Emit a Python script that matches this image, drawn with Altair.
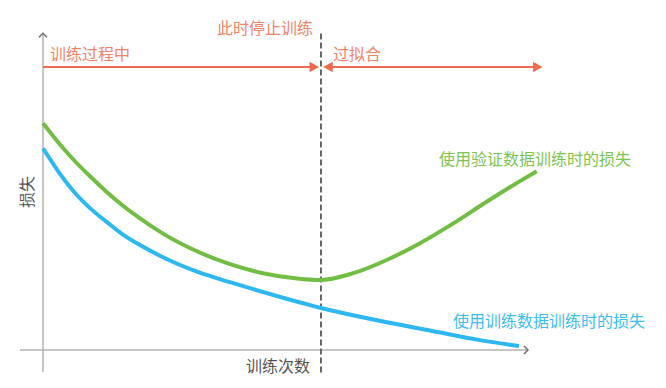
import altair as alt
import pandas as pd

# ---- data (abstract units: x = training steps, y = loss) ----
green_x = [0, 2.74, 6.06, 9.4, 12.74, 16.06, 19.4, 24, 30.8, 37.4, 44, 50.8, 55.4,
           62.06, 68.74, 75.4, 82.06, 88.74, 95.4, 98.74]
green_y = [75.6, 69.85, 63.5, 57.9, 52.7, 48.0, 43.85, 38.8, 32.9, 28.6, 25.6, 23.8, 23.3,
           25.6, 30, 35.6, 42.2, 49.4, 56.3, 59.6]
blue_x = [0, 2.06, 3.4, 6.06, 9.4, 12.74, 16.06, 19.4, 24, 30.8, 37.4, 41.4, 55.4,
          71.4, 77.4, 87.4, 95.2]
blue_y = [67.2, 62, 58.7, 53, 47.3, 42.7, 38.4, 35, 30.9, 26.1, 22.6, 20.6, 14.1,
          8.4, 6.5, 3.3, 1.3]

stop_x = 55.6
arrow_y = 94.3
labels = ["训练过程中", "此时停止训练", "过拟合", "使用验证数据训练时的损失",
          "使用训练数据训练时的损失", "训练次数", "损失"]

XD = [-7, 123]
YD = [-9, 114]

FONT = "Noto Sans CJK SC"
RED = "#EE6B4F"
RED_TXT = "#F08468"
GREEN = "#72BE44"
BLUE = "#2DB8F2"

xs = alt.Scale(domain=XD, nice=False, zero=False)
ys = alt.Scale(domain=YD, nice=False, zero=False)


def X(f="x"):
    return alt.X(f"{f}:Q", scale=xs, axis=None)


def Y(f="y"):
    return alt.Y(f"{f}:Q", scale=ys, axis=None)


# axes lines
axes_df = pd.DataFrame({"x": [0, -4.6], "x2": [0, 97], "y": [-7.3, 0], "y2": [105.6, 0]})
axes = alt.Chart(axes_df).mark_rule(color="#b3b3b3", strokeWidth=1.5).encode(
    x=X(), x2="x2:Q", y=Y(), y2="y2:Q")

# chevrons at axis ends
chev_up = alt.Chart(pd.DataFrame({"x": [0], "y": [105.6]})).mark_point(
    shape="M-1,1L0,0L1,1", filled=False, size=64, color="#707070", strokeWidth=1.5, opacity=1
).encode(x=X(), y=Y())
chev_right = alt.Chart(pd.DataFrame({"x": [97], "y": [0]})).mark_point(
    shape="M-1,-1L0,0L-1,1", filled=False, size=64, color="#707070", strokeWidth=1.5, opacity=1
).encode(x=X(), y=Y())

# dashed stop line
stop = alt.Chart(pd.DataFrame({"x": [stop_x], "y": [-7.5], "y2": [106]})).mark_rule(
    color="#666666", strokeWidth=2, strokeDash=[6, 3]
).encode(x=X(), y=Y(), y2="y2:Q")

# red arrows
arr_df = pd.DataFrame({"x": [0, 56.5], "x2": [54.5, 99.3], "y": [arrow_y, arrow_y]})
arr_lines = alt.Chart(arr_df).mark_rule(color=RED, strokeWidth=2).encode(
    x=X(), x2="x2:Q", y=Y())
heads_r = alt.Chart(pd.DataFrame({"x": [54.26, 98.96], "y": [arrow_y, arrow_y]})).mark_point(
    shape="M-0.9,-1L0.9,0L-0.9,1Z", filled=True, size=110, color=RED, opacity=1
).encode(x=X(), y=Y())
heads_l = alt.Chart(pd.DataFrame({"x": [57.0], "y": [arrow_y]})).mark_point(
    shape="M0.9,-1L-0.9,0L0.9,1Z", filled=True, size=110, color=RED, opacity=1
).encode(x=X(), y=Y())

# curves
green = alt.Chart(pd.DataFrame({"x": green_x, "y": green_y})).mark_line(
    color=GREEN, strokeWidth=4, interpolate="monotone").encode(x=X(), y=Y())
blue = alt.Chart(pd.DataFrame({"x": blue_x, "y": blue_y})).mark_line(
    color=BLUE, strokeWidth=4, interpolate="monotone").encode(x=X(), y=Y())


def txt(label, x, y, color, align="left", angle=0):
    return alt.Chart(pd.DataFrame({"x": [x], "y": [y], "t": [label]})).mark_text(
        font=FONT, fontSize=16, color=color, align=align, baseline="middle", angle=angle
    ).encode(x=X(), y=Y(), text="t:N")


texts = [
    txt(labels[0], 1.4, 98.3, RED_TXT),
    txt(labels[1], 54.0, 107.0, RED_TXT, align="right"),
    txt(labels[2], 58.0, 98.5, RED_TXT),
    txt(labels[3], 79.2, 63.5, "#7DC452"),
    txt(labels[4], 82.0, 9.3, "#3CBDF2"),
    txt(labels[5], 47.0, -5.7, "#555555", align="center"),
    txt(labels[6], -3.1, 52.7, "#555555", align="center", angle=270),
]

chart = alt.layer(axes, chev_up, chev_right, stop, arr_lines, heads_r, heads_l,
                  green, blue, *texts).properties(
    width=650, height=369, autosize=alt.AutoSizeParams(type="none"), padding=0
).configure_view(stroke=None)

chart.save("out.html", embed_options={"renderer": "svg", "actions": False})
